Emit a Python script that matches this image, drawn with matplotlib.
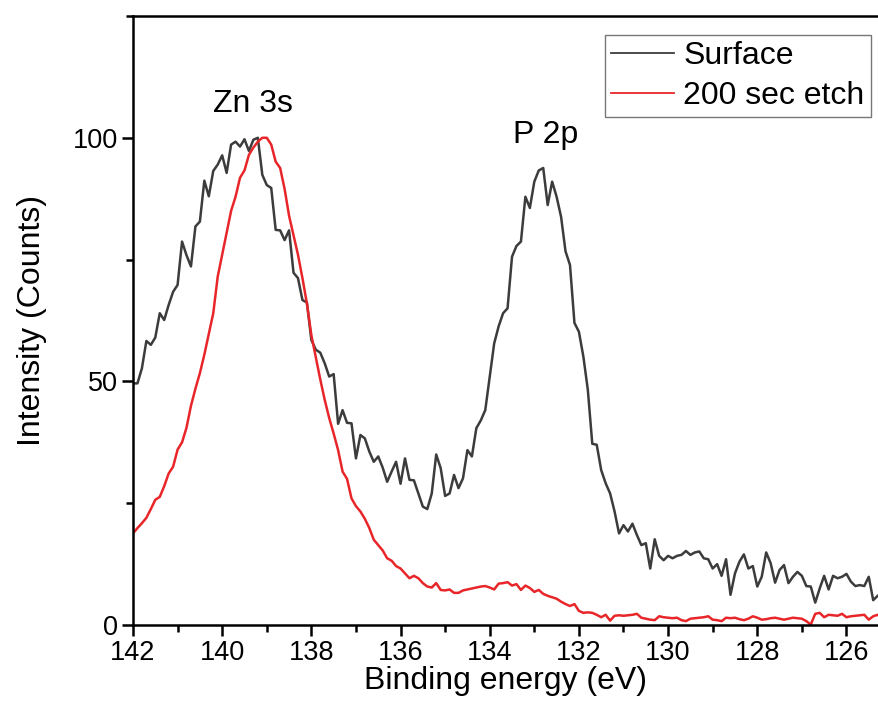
import numpy as np
import matplotlib
matplotlib.use("Agg")
import matplotlib.pyplot as plt
from matplotlib.ticker import MultipleLocator

plt.rcParams['font.family'] = ['Liberation Sans', 'DejaVu Sans']

# binding energy grid: 142.0 eV down to 125.2 eV in 0.1 eV steps
surface = [
    49.6, 49.6, 52.7, 58.3, 57.5, 59.0, 64.0, 62.6, 65.7, 68.4,
    69.8, 78.7, 75.9, 73.6, 81.8, 82.8, 91.2, 88.0, 93.2, 94.5,
    96.4, 92.8, 98.6, 99.2, 98.2, 99.7, 97.3, 99.6, 100.0, 92.4,
    90.3, 89.7, 81.1, 81.0, 79.0, 81.0, 72.3, 71.2, 66.7, 66.2,
    58.5, 56.5, 55.9, 53.7, 51.0, 51.5, 41.3, 44.1, 41.5, 41.4,
    34.2, 39.0, 38.3, 35.6, 33.5, 34.6, 32.3, 29.4, 31.5, 33.5,
    29.0, 34.2, 29.8, 29.7, 27.0, 24.3, 23.8, 27.0, 35.0, 32.2,
    26.5, 27.0, 30.8, 28.1, 30.1, 35.9, 34.6, 40.4, 42.0, 44.1,
    51.0, 57.8, 61.3, 64.0, 65.0, 75.6, 77.8, 78.7, 87.9, 85.6,
    91.0, 93.3, 93.8, 86.2, 91.0, 87.9, 83.8, 76.7, 73.9, 62.0,
    60.2, 55.1, 48.3, 37.2, 37.0, 31.8, 29.1, 27.0, 23.3, 18.8,
    20.5, 19.2, 20.8, 18.5, 16.4, 16.8, 11.6, 17.6, 14.2, 13.3,
    14.2, 13.7, 14.2, 14.4, 15.2, 14.4, 14.9, 15.1, 13.7, 13.5,
    11.6, 12.5, 10.1, 13.5, 6.2, 10.6, 13.0, 14.5, 11.6, 12.1,
    7.9, 9.9, 14.9, 12.7, 8.7, 11.3, 12.3, 8.6, 9.9, 10.9,
    10.1, 8.0, 7.9, 4.6, 7.5, 10.1, 7.3, 10.1, 9.6, 9.9,
    10.5, 8.9, 8.0, 8.2, 8.0, 9.9, 5.1, 6.0, 6.6,
]

etch = [
    18.8, 19.9, 20.9, 22.0, 23.8, 25.7, 26.3, 28.5, 31.1, 32.5,
    36.0, 37.5, 40.5, 45.0, 48.5, 51.7, 55.5, 59.8, 64.0, 71.5,
    76.0, 80.5, 85.0, 87.9, 91.8, 93.3, 96.5, 98.0, 99.2, 100.0,
    100.0, 98.6, 95.1, 93.8, 89.5, 84.0, 80.0, 76.0, 71.2, 66.0,
    59.5, 55.0, 50.4, 46.2, 42.5, 39.3, 35.9, 31.5, 30.0, 26.0,
    24.4, 23.3, 21.8, 19.9, 17.5, 16.4, 15.3, 13.7, 13.2, 12.1,
    11.6, 10.6, 9.6, 10.1, 9.6, 8.6, 7.9, 7.7, 8.6, 7.2,
    7.1, 7.3, 6.6, 6.6, 7.1, 7.3, 7.5, 7.7, 7.9, 8.0,
    7.7, 7.3, 8.5, 8.6, 8.8, 8.1, 8.4, 7.2, 8.1, 7.6,
    6.8, 7.2, 6.4, 6.0, 5.7, 5.4, 4.8, 4.3, 3.9, 4.3,
    2.9, 2.5, 2.6, 2.5, 2.1, 1.6, 2.1, 0.9, 1.9, 2.0,
    1.9, 2.0, 2.1, 2.3, 1.5, 1.3, 1.1, 1.0, 1.8, 1.6,
    1.5, 1.4, 1.5, 1.0, 0.8, 1.3, 1.4, 1.5, 1.6, 1.8,
    1.1, 1.0, 0.8, 1.5, 1.4, 1.5, 1.2, 1.0, 1.3, 1.8,
    1.5, 1.1, 1.2, 1.4, 1.5, 1.3, 1.1, 1.3, 1.5, 1.4,
    1.3, 0.8, 0.1, 2.3, 2.5, 1.6, 2.1, 2.0, 1.9, 2.3,
    1.6, 1.8, 1.9, 2.0, 2.1, 1.1, 1.8, 2.1, 1.5,
]

energy = 142.0 - 0.1 * np.arange(len(surface))

fig = plt.figure(figsize=(8.79, 7.2), dpi=100)
ax = fig.add_axes([0.1513, 0.1319, 0.8487, 0.8459])

ax.plot(energy, surface, color='#3c3c3c', lw=1.8, label='Surface')
ax.plot(energy, etch, color='#e8262a', lw=1.8, label='200 sec etch')

ax.set_xlim(142, 125.27)
ax.set_ylim(0, 125)
ax.xaxis.set_major_locator(MultipleLocator(2))
ax.xaxis.set_minor_locator(MultipleLocator(1))
ax.yaxis.set_major_locator(MultipleLocator(50))
ax.yaxis.set_minor_locator(MultipleLocator(25))

for s in ['left', 'bottom', 'top']:
    ax.spines[s].set_linewidth(1.8)
ax.spines['right'].set_visible(False)

ax.tick_params(which='major', direction='out', length=8, width=1.8,
               labelsize=19.5, pad=3, top=False, right=False)
ax.tick_params(which='minor', direction='out', length=5, width=1.8,
               top=False, right=False)

ax.set_xlabel('Binding energy (eV)', fontsize=23, labelpad=0)
ax.set_ylabel('Intensity (Counts)', fontsize=23, labelpad=18)

ax.text(139.3, 107, 'Zn 3s', fontsize=23, ha='center', va='center')
ax.text(132.75, 100.5, 'P 2p', fontsize=23, ha='center', va='center')

leg = ax.legend(loc='upper right', bbox_to_anchor=(0.989, 0.969),
                borderaxespad=0, fontsize=23, frameon=True, fancybox=False,
                edgecolor='#555555', handlelength=1.95, handletextpad=0.3,
                labelspacing=0.3, borderpad=0.2)
leg.get_frame().set_linewidth(1.0)
for h in leg.get_lines():
    h.set_linewidth(1.3)

fig.savefig('out.png', dpi=100)
